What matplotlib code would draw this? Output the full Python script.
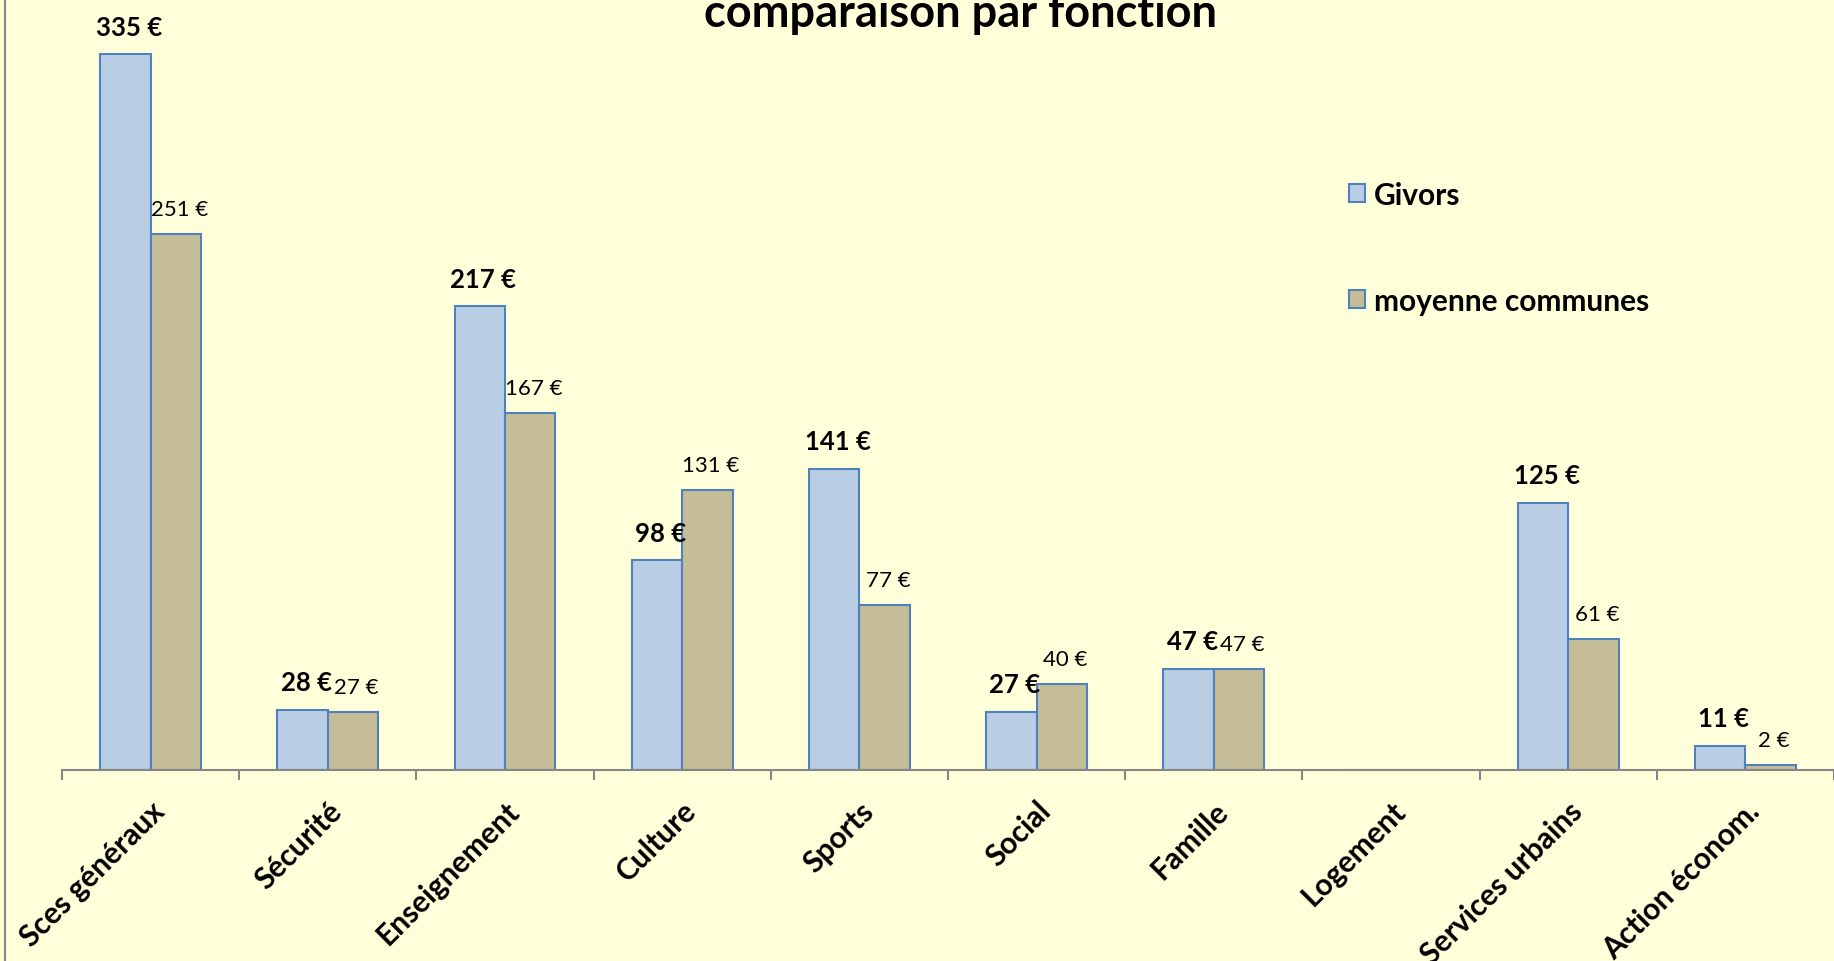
import numpy as np
import matplotlib
matplotlib.use("Agg")
import matplotlib.pyplot as plt
from matplotlib.lines import Line2D

plt.rcParams['font.family'] = ['Lato', 'DejaVu Sans']

# data
categories = ["Sces généraux", "Sécurité", "Enseignement", "Culture", "Sports",
              "Social", "Famille", "Logement", "Services urbains", "Action économ."]
givors = [335, 28, 217, 98, 141, 27, 47, 0, 125, 11]
moyenne = [251, 27, 167, 131, 77, 40, 47, 0, 61, 2]
series_names = ["Givors", "moyenne communes"]
title = "comparaison par fonction"

bg = "#FFFFD9"
col_givors = "#B9CDE5"
col_moy = "#C4BD97"
edge = "#4F81BD"

fig = plt.figure(figsize=(18.34, 9.62), dpi=100, facecolor=bg)
ax = fig.add_axes([62 / 1834, 191.5 / 962, 1 - 62 / 1834, 1 - 191.5 / 962])
ax.set_facecolor(bg)

x = np.arange(len(categories))
w = 0.284
b1 = ax.bar(x - w / 2, givors, w, color=col_givors, edgecolor=edge, linewidth=1.5, label=series_names[0])
b2 = ax.bar(x + w / 2, moyenne, w, color=col_moy, edgecolor=edge, linewidth=1.5, label=series_names[1])

for xi, v in zip(x, givors):
    if v:
        ax.annotate("%d €" % v, (xi - w / 2 + 0.02, v), xytext=(0, 20), textcoords="offset points",
                    ha="center", va="center", fontsize=18.5, fontweight="bold")
for xi, v in zip(x, moyenne):
    if v:
        ax.annotate("%d €" % v, (xi + w / 2 + 0.02, v), xytext=(0, 18), textcoords="offset points",
                    ha="center", va="center", fontsize=16)

ax.set_xlim(-0.5, len(categories) - 0.5)
ax.set_ylim(0, 361)
ax.set_yticks([])
for s in ["top", "right", "left"]:
    ax.spines[s].set_visible(False)
ax.spines["bottom"].set_color("#868686")
ax.spines["bottom"].set_linewidth(1.5)

# ticks at category boundaries, labels at centers
ax.set_xticks(np.arange(len(categories) + 1) - 0.5)
ax.set_xticklabels([])
ax.tick_params(axis="x", which="major", length=7, width=1.5, color="#868686", direction="out")
ax.set_xticks(x, minor=True)
ax.set_xticklabels(categories, minor=True, rotation=45, ha="right", va="top",
                   rotation_mode="anchor", fontsize=21.5, fontweight="bold")
ax.tick_params(axis="x", which="minor", length=0, pad=19)

ax.legend(loc="upper left", bbox_to_anchor=(1334 / 1834, 1 - 167 / 962), bbox_transform=fig.transFigure,
          frameon=False, prop={"weight": "bold", "size": 21.5}, handlelength=0.55, handleheight=0.55,
          handletextpad=0.3, labelspacing=2.6, borderpad=0)

fig.text(961 / 1834, 1 - 14 / 962, title, ha="center", va="center", fontsize=32.5, fontweight="bold")

fig.add_artist(Line2D([5 / 1834, 5 / 1834], [0, 1], color="#868686", linewidth=1.5, transform=fig.transFigure))

fig.savefig("out.png", dpi=100, facecolor=bg)
